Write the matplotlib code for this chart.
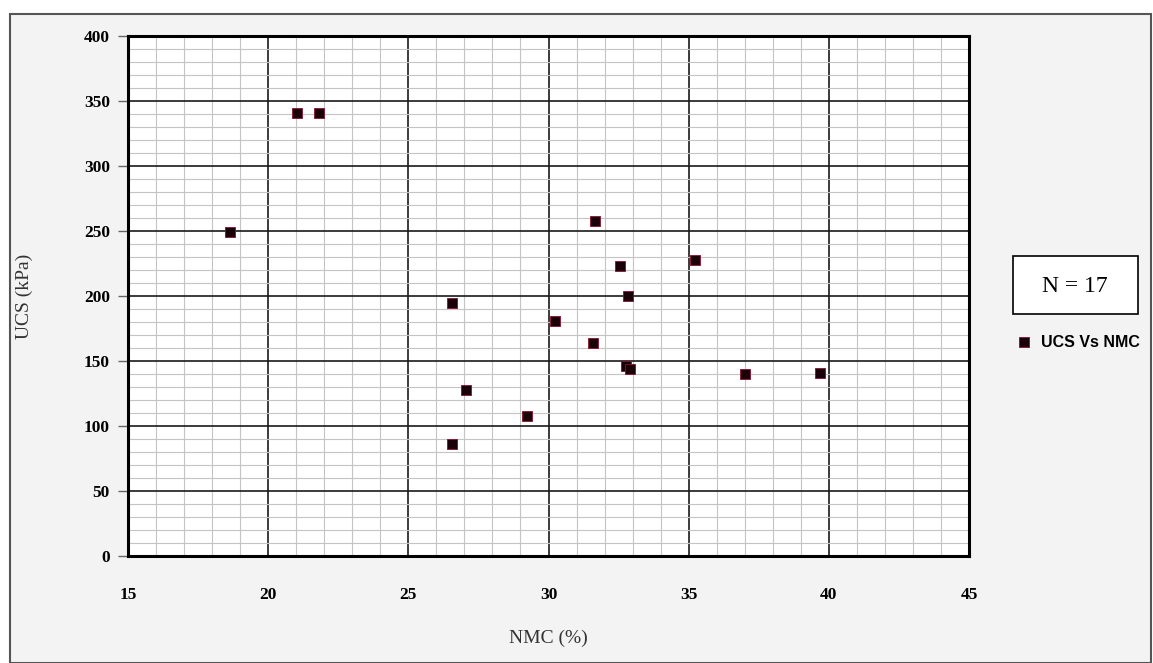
import numpy as np
import matplotlib
matplotlib.use("Agg")
import matplotlib.pyplot as plt
from matplotlib.patches import Rectangle
from matplotlib.ticker import MultipleLocator

# NMC (%) vs UCS (kPa)
nmc = [18.65, 21.04, 21.8, 26.57, 27.05, 29.25, 26.57, 31.65, 32.55, 35.22,
       32.82, 30.24, 31.6, 32.78, 32.92, 37.0, 39.7]
ucs = [249, 341, 341, 195, 128, 108, 86, 258, 223, 228,
       200, 181, 164, 146, 144, 140, 141]

x_ticks = [15, 20, 25, 30, 35, 40, 45]
y_ticks = [0, 50, 100, 150, 200, 250, 300, 350, 400]
series_name = "UCS Vs NMC"
n_label = "N = 17"

W, H = 1153, 663
fig = plt.figure(figsize=(W / 100, H / 100), dpi=100)
fig.patch.set_facecolor("white")

# outer chart frame (light grey chart area)
fig.add_artist(Rectangle((10 / W, 0), (W - 12) / W, 1 - 14 / H,
                         transform=fig.transFigure, facecolor="#f3f3f3",
                         edgecolor="#555555", linewidth=1.5, zorder=-10))

ax = fig.add_axes([128 / W, 1 - 556 / H, 841 / W, 520 / H])
ax.set_facecolor("white")

ax.scatter(nmc, ucs, marker="s", s=56, color="#1a0008",
           edgecolor="#8a1030", linewidth=0.6, zorder=5, label=series_name)

ax.set_xlim(15, 45)
ax.set_ylim(0, 400)
ax.set_xticks(x_ticks)
ax.set_yticks(y_ticks)
ax.xaxis.set_minor_locator(MultipleLocator(1))
ax.yaxis.set_minor_locator(MultipleLocator(10))

ax.grid(which="major", color="#1a1a1a", linewidth=1.2, zorder=1)
ax.grid(which="minor", color="#c4c4c4", linewidth=0.8, zorder=0)
ax.set_axisbelow(True)

for s in ax.spines.values():
    s.set_linewidth(2.2)
    s.set_color("black")

serif = ["Liberation Serif", "DejaVu Serif"]
ax.tick_params(axis="y", which="major", length=7, width=1, color="#666666",
               pad=6, labelsize=12.5)
ax.tick_params(axis="x", which="major", length=0, pad=22, labelsize=12.5)
ax.tick_params(which="minor", length=0)
for lab in ax.get_xticklabels() + ax.get_yticklabels():
    lab.set_fontfamily(serif)
    lab.set_fontweight("bold")

ax.set_xlabel("NMC (%)", fontfamily=serif, fontsize=14, color="#333333")
ax.xaxis.set_label_coords(0.5, -(630 - 556) / 520, transform=ax.transAxes)
ax.set_ylabel("UCS (kPa)", fontfamily=serif, fontsize=14, color="#333333",
              va="center")
ax.yaxis.set_label_coords(-(128 - 24) / 841, 0.5)

# N = 17 box
fig.add_artist(Rectangle((1013 / W, 1 - 314 / H), 125 / W, 58 / H,
                         transform=fig.transFigure, facecolor="white",
                         edgecolor="black", linewidth=1.2))
fig.text(1075 / W, 1 - 286 / H, n_label, ha="center", va="center",
         fontfamily=serif, fontsize=17)

fig.legend(loc="center left", bbox_to_anchor=(994 / W, 1 - 342 / H),
           frameon=False, handletextpad=0.05, markerscale=1.0,
           prop={"family": "Liberation Sans", "weight": "bold", "size": 11.5})

fig.savefig("out.png", dpi=100)
